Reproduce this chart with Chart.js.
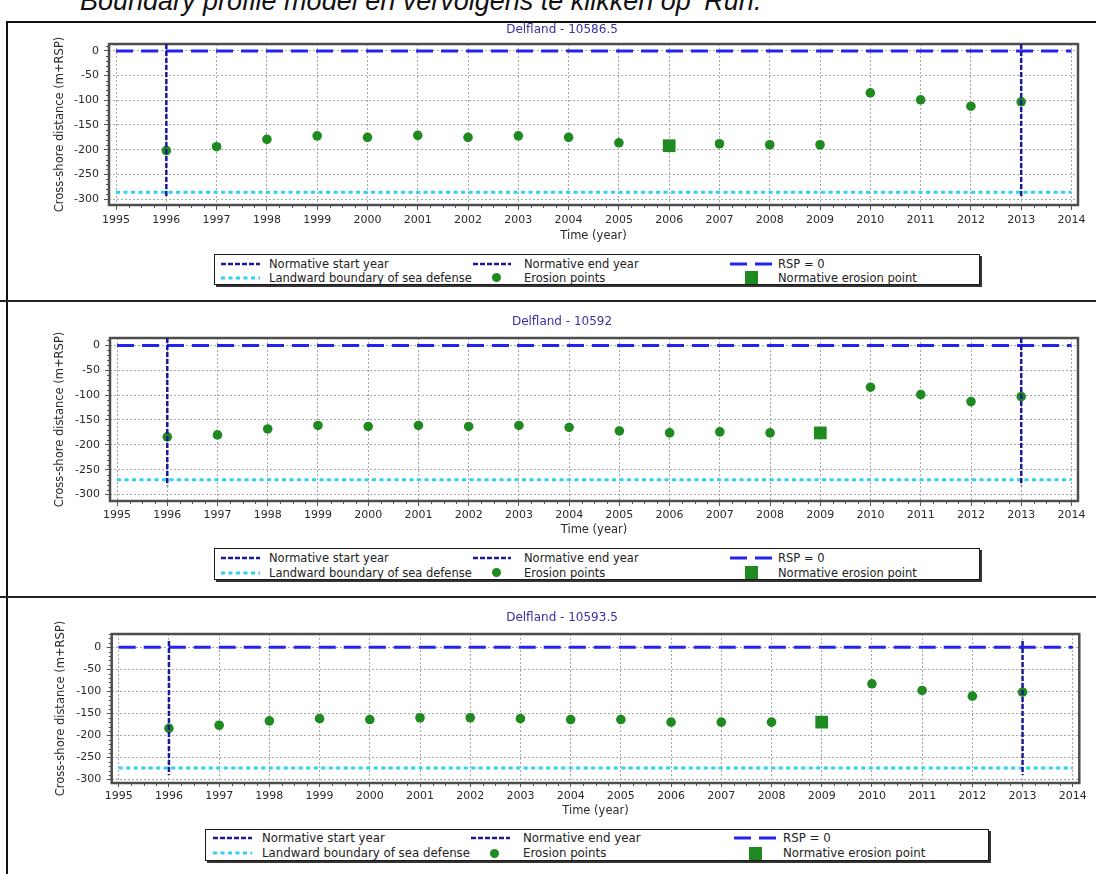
<!DOCTYPE html>
<html>
<head>
<meta charset="utf-8">
<script src="https://cdn.jsdelivr.net/npm/chart.js@4.4.1/dist/chart.umd.min.js"></script>
<style>
  html, body { margin:0; padding:0; background:#fff; }
  body { width:1096px; height:874px; overflow:hidden; position:relative; font-family:"DejaVu Sans", sans-serif; }
  .abs { position:absolute; }
  .intro { position:absolute; left:80px; top:-12px; font-family:"Liberation Sans", Arial, sans-serif; font-style:italic; font-size:27px; line-height:26px; color:#111; white-space:nowrap; }
  .rule { position:absolute; background:#111; }
  .legend { position:absolute; border:1px solid #1a1a1a; box-shadow:2px 2px 0 #333; background:#fff; box-sizing:border-box; }
  .legend .txt { position:absolute; font-size:11.5px; color:#222; white-space:nowrap; transform:translateY(-50%); line-height:14px; }
  .legend svg { position:absolute; overflow:visible; }
</style>
</head>
<body>
<div class="intro">Boundary profile model en vervolgens te klikken op ‘Run.’</div>
<div class="rule" style="left:7px;top:21px;width:1089px;height:2px"></div>
<div class="rule" style="left:6px;top:21px;width:2px;height:853px"></div>
<div class="rule" style="left:0;top:300px;width:1096px;height:2px;background:#222"></div>
<div class="rule" style="left:0;top:596px;width:1096px;height:2px;background:#222"></div>

<canvas id="chart0" class="abs" width="1068" height="220" style="left:28px;top:23px"></canvas>
<canvas id="chart1" class="abs" width="1068" height="222" style="left:28px;top:315px"></canvas>
<canvas id="chart2" class="abs" width="1068" height="207" style="left:28px;top:611px"></canvas>
<div id="legend0" class="legend"></div>
<div id="legend1" class="legend"></div>
<div id="legend2" class="legend"></div>

<script>
// ---- data -------------------------------------------------------------
const profileNames = ['Delfland - 10586.5', 'Delfland - 10592', 'Delfland - 10593.5'];
const years = [1996, 1997, 1998, 1999, 2000, 2001, 2002, 2003, 2004,
               2005, 2006, 2007, 2008, 2009, 2010, 2011, 2012, 2013];
const erosion10586_5 = [-202, -194, -179, -172, -175, -171, -175, -172, -175,
                        -186, -192, -188, -190, -190, -85, -99, -112, -103];
const erosion10592   = [-184, -180, -168, -161, -163, -161, -163, -161, -165,
                        -172, -176, -174, -176, -176, -84, -99, -113, -103];
const erosion10593_5 = [-184, -177, -167, -162, -164, -160, -160, -162, -164,
                        -164, -170, -170, -170, -170, -83, -98, -111, -102];
const erosionSeries = [erosion10586_5, erosion10592, erosion10593_5];
const normativeErosionYear = [2006, 2009, 2009];
const normativeStartYear = [1996, 1996, 1996];
const normativeEndYear = [2013, 2013, 2013];
const landwardBoundary = [-286, -270, -274];
const yearLineTop = [14, 15, 14];
const yearLineBottom = [-298, -282, -290];
const rspLevel = 0;
const rspSpan = [1995, 2014];

// axis ticks and ranges
const xTicks = [1995, 1996, 1997, 1998, 1999, 2000, 2001, 2002, 2003, 2004,
                2005, 2006, 2007, 2008, 2009, 2010, 2011, 2012, 2013, 2014];
const yTicks = [0, -50, -100, -150, -200, -250, -300];
const xRange = [1994.86, 2014.13];
const yMinByProfile = [-312, -313, -308];
const yMaxByProfile = [14, 15, 30];

// ---- styles -------------------------------------------------------------
const GREEN = '#1f8a1f';
const NAVY = '#1a1a96';
const BLUE = '#2323f0';
const CYAN = '#2fd0f5';
const FONT = '"DejaVu Sans", sans-serif';

const styles = {
  start:    { color: NAVY, width: 2.5, dash: [5, 2] },
  end:      { color: NAVY, width: 2.5, dash: [5, 2] },
  rsp:      { color: BLUE, width: 3, dash: [17, 8] },
  landward: { color: CYAN, width: 3, dash: [4, 3.5] }
};

// per-panel frame geometry
const layouts = [
  { side: 18,   yAxisW: 63, titlePadB: 6.6, xAxisH: 38, tickPadX: 4, tickLenX: 5, yTitlePad: 7.1, tickPadY: 5 },
  { side: 18,   yAxisW: 64, titlePadB: 8.6, xAxisH: 36, tickPadX: 3, tickLenX: 5, yTitlePad: 7.1, tickPadY: 5 },
  { side: 16.7, yAxisW: 67, titlePadB: 8.6, xAxisH: 35, tickPadX: 2.5, tickLenX: 4, yTitlePad: 9.4, tickPadY: 5.4 }
];

const legendBoxes = [
  { left: 214, top: 254, width: 766, height: 31, rows: [8.7, 22.7],
    cols: [{ s: 6, w: 39, t: 54 }, { s: 258, w: 38, t: 309, mark: 281 }, { s: 515, w: 43, t: 563, mark: 536 }], font: 11.5 },
  { left: 214, top: 548, width: 766, height: 32, rows: [9.3, 23.7],
    cols: [{ s: 6, w: 39, t: 54 }, { s: 258, w: 38, t: 309, mark: 281 }, { s: 515, w: 43, t: 563, mark: 536 }], font: 11.5 },
  { left: 205, top: 829, width: 784, height: 32, rows: [8.3, 23.3],
    cols: [{ s: 7, w: 39, t: 56 }, { s: 265, w: 39, t: 317, mark: 288 }, { s: 528, w: 43, t: 577, mark: 549 }], font: 11.8 }
];

// ---- plugins -------------------------------------------------------------
// Frame round the plot area plus the small unlabelled ticks between the labelled ones.
const frameAndMinorTicks = {
  id: 'frameAndMinorTicks',
  beforeDatasetsDraw(chart) {
    const { ctx, chartArea: a, scales: { x, y } } = chart;
    ctx.save();
    ctx.strokeStyle = '#555';
    ctx.lineWidth = 1;
    ctx.beginPath();
    for (let v = -300; v <= y.max; v += 10) {
      if (v % 50 === 0) continue;
      const py = Math.round(y.getPixelForValue(v)) + 0.5;
      ctx.moveTo(a.left - 3, py); ctx.lineTo(a.left, py);
    }
    for (let v = 1995; v <= 2014.001; v += 0.25) {
      if (Math.abs(v - Math.round(v)) < 1e-6) continue;
      const px = Math.round(x.getPixelForValue(v)) + 0.5;
      ctx.moveTo(px, a.bottom); ctx.lineTo(px, a.bottom + 3);
    }
    ctx.stroke();
    ctx.strokeStyle = '#4d4d4d';
    ctx.lineWidth = 2.5;
    ctx.strokeRect(a.left, a.top, a.right - a.left, a.bottom - a.top);
    ctx.restore();
  }
};

function lineSet(label, pts, st, order) {
  return {
    label, data: pts, showLine: true, pointRadius: 0, borderColor: st.color,
    borderWidth: st.width, borderDash: st.dash, borderCapStyle: 'butt', fill: false, order
  };
}

function buildChart(i) {
  const L = layouts[i];
  const vals = erosionSeries[i];
  const nIdx = years.indexOf(normativeErosionYear[i]);
  const datasets = [
    lineSet('Normative start year',
      [{ x: normativeStartYear[i], y: yearLineTop[i] }, { x: normativeStartYear[i], y: yearLineBottom[i] }], styles.start, 1),
    lineSet('Normative end year',
      [{ x: normativeEndYear[i], y: yearLineTop[i] }, { x: normativeEndYear[i], y: yearLineBottom[i] }], styles.end, 2),
    lineSet('RSP = 0',
      [{ x: rspSpan[0], y: rspLevel }, { x: rspSpan[1], y: rspLevel }], styles.rsp, 3),
    lineSet('Landward boundary of sea defense',
      [{ x: rspSpan[0], y: landwardBoundary[i] }, { x: rspSpan[1], y: landwardBoundary[i] }], styles.landward, 4),
    {
      label: 'Erosion points', order: 6, showLine: false,
      data: years.map((yr, k) => ({ x: yr, y: vals[k] })),
      pointRadius: 4.8, pointStyle: 'circle', backgroundColor: GREEN, borderColor: GREEN, borderWidth: 0
    },
    {
      label: 'Normative erosion point', order: 5, showLine: false,
      data: [{ x: normativeErosionYear[i], y: vals[nIdx] }],
      pointRadius: 9, pointStyle: 'rect', backgroundColor: GREEN, borderColor: GREEN, borderWidth: 0
    }
  ];

  const gridCommon = { color: '#a8a8a8', lineWidth: 1, tickColor: '#555', tickBorderDash: [], tickWidth: 1 };

  return new Chart(document.getElementById('chart' + i), {
    type: 'scatter',
    data: { datasets },
    options: {
      responsive: false, animation: false, events: [],
      layout: { padding: { left: L.side, right: L.side, top: 0, bottom: 0 } },
      plugins: {
        legend: { display: false }, tooltip: { enabled: false },
        title: {
          display: true, text: profileNames[i], color: '#3a30a8',
          font: { family: FONT, size: 12, weight: 'normal', lineHeight: 1.2 },
          padding: { top: 0, bottom: L.titlePadB }
        }
      },
      scales: {
        x: {
          type: 'linear', min: xRange[0], max: xRange[1],
          afterBuildTicks: s => { s.ticks = xTicks.map(v => ({ value: v })); },
          afterFit: s => { s.height = L.xAxisH; },
          ticks: { color: '#2a2a2a', font: { family: FONT, size: 11 }, padding: L.tickPadX,
                   maxRotation: 0, autoSkip: false, callback: v => String(v) },
          grid: Object.assign({ tickLength: L.tickLenX }, gridCommon),
          border: { display: false, dash: [2, 2] },
          title: { display: true, text: 'Time (year)', color: '#2a2a2a',
                   font: { family: FONT, size: 11.5, lineHeight: 1.2 }, padding: { top: 0, bottom: 0 } }
        },
        y: {
          type: 'linear', min: yMinByProfile[i], max: yMaxByProfile[i],
          afterBuildTicks: s => { s.ticks = yTicks.map(v => ({ value: v })); },
          afterFit: s => { s.width = L.yAxisW; },
          ticks: { color: '#2a2a2a', font: { family: FONT, size: 11 }, padding: L.tickPadY,
                   callback: v => String(v) },
          grid: Object.assign({ tickLength: 5 }, gridCommon),
          border: { display: false, dash: [2, 2] },
          title: { display: true, text: 'Cross-shore distance (m+RSP)', color: '#2a2a2a',
                   font: { family: FONT, size: 11.5, lineHeight: 1.2 }, padding: { top: L.yTitlePad, bottom: 0 } }
        }
      }
    },
    plugins: [frameAndMinorTicks]
  });
}

// ---- legends ---------------------------------------------------------
function svgLine(x, y, w, st) {
  return `<svg style="left:${x}px;top:${y - 3}px" width="${w}" height="6">
    <line x1="0" y1="3" x2="${w}" y2="3" stroke="${st.color}" stroke-width="${st.width}" stroke-dasharray="${st.dash.join(' ')}"/></svg>`;
}
function svgDot(cx, cy, r) {
  return `<svg style="left:${cx - r}px;top:${cy - r}px" width="${2 * r}" height="${2 * r}">
    <circle cx="${r}" cy="${r}" r="${r}" fill="${GREEN}"/></svg>`;
}
function svgSquare(cx, cy, s) {
  return `<svg style="left:${cx - s / 2}px;top:${cy - s / 2}px" width="${s}" height="${s}">
    <rect x="0" y="0" width="${s}" height="${s}" fill="${GREEN}"/></svg>`;
}
function txt(x, y, label, size) {
  return `<div class="txt" style="left:${x}px;top:${y}px;font-size:${size}px">${label}</div>`;
}

function buildLegend(i, chart) {
  const B = legendBoxes[i];
  const el = document.getElementById('legend' + i);
  Object.assign(el.style, { left: B.left + 'px', top: B.top + 'px', width: B.width + 'px', height: B.height + 'px' });
  const ds = chart.data.datasets;
  const [r1, r2] = B.rows;
  const [c1, c2, c3] = B.cols;
  let html = '';
  html += svgLine(c1.s, r1, c1.w, styles.start) + txt(c1.t, r1, ds[0].label, B.font);
  html += svgLine(c2.s, r1, c2.w, styles.end) + txt(c2.t, r1, ds[1].label, B.font);
  html += svgLine(c3.s, r1, c3.w, styles.rsp) + txt(c3.t, r1, ds[2].label, B.font);
  html += svgLine(c1.s, r2, c1.w, styles.landward) + txt(c1.t, r2, ds[3].label, B.font);
  html += svgDot(c2.mark, r2, 4.5) + txt(c2.t, r2, ds[4].label, B.font);
  html += svgSquare(c3.mark, r2, 13) + txt(c3.t, r2, ds[5].label, B.font);
  el.innerHTML = html;
}

for (let i = 0; i < 3; i++) {
  const chart = buildChart(i);
  buildLegend(i, chart);
}
</script>
</body>
</html>
